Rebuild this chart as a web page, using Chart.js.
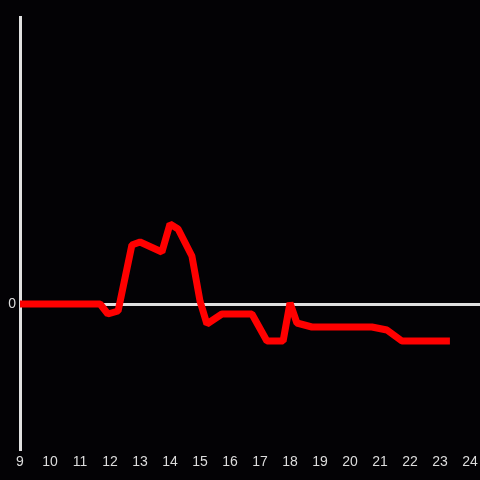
<!DOCTYPE html>
<html>
<head>
<meta charset="utf-8">
<script src="https://cdn.jsdelivr.net/npm/chart.js@4/dist/chart.umd.min.js"></script>
<style>
  html, body { margin: 0; padding: 0; background: #030205; }
  #wrap { width: 480px; height: 480px; }
</style>
</head>
<body>
<div id="wrap"><canvas id="grafico"></canvas></div>
<script>
// horas (eixo x) e valores da serie
var horas = [9, 11.67, 11.93, 12.27, 12.73, 13.0, 13.73, 14.0, 14.27, 14.73, 15.0, 15.23,
    15.73, 16.73, 17.23, 17.77, 18.0, 18.23, 18.73, 20.73, 21.23, 21.73, 23.33];
var valores = [0, 0, -1.0, -0.7, 5.9, 6.2, 5.2, 8.0, 7.5, 4.8, 0.3, -2.0,
    -1.0, -1.0, -3.7, -3.7, 0.1, -1.9, -2.3, -2.3, -2.6, -3.7, -3.7];
var ticksX = [9, 10, 11, 12, 13, 14, 15, 16, 17, 18, 19, 20, 21, 22, 23, 24];
var ticksY = [0];

var pontos = horas.map(function (h, i) { return { x: h, y: valores[i] }; });
var corTexto = "#dcdcdc";

var ctx = document.getElementById('grafico').getContext('2d');
var meuGrafico = new Chart(ctx, {
    type: 'line',
    data: {
        datasets: [{
            data: pontos,
            borderColor: "#ff0000",
            borderWidth: 7,
            pointRadius: 0,
            fill: false,
            tension: 0,
            borderJoinStyle: 'bevel',
            borderCapStyle: 'butt'
        }]
    },
    options: {
        responsive: true,
        maintainAspectRatio: false,
        animation: false,
        layout: { padding: { top: 17, right: 0, left: 0, bottom: 0 } },
        plugins: { legend: { display: false }, tooltip: { enabled: false } },
        scales: {
            x: {
                type: 'linear',
                min: 9,
                max: 24.333,
                afterBuildTicks: function (eixo) {
                    eixo.ticks = ticksX.map(function (v) { return { value: v }; });
                },
                afterFit: function (eixo) {
                    eixo.height = 31;
                    eixo.paddingLeft = 0;
                    eixo.paddingRight = 0;
                },
                grid: { display: false, drawTicks: false },
                border: { display: false },
                ticks: {
                    color: corTexto,
                    font: { family: "'Liberation Sans', Arial, sans-serif", size: 14 },
                    padding: 5,
                    maxRotation: 0,
                    autoSkip: false
                }
            },
            y: {
                min: -14.5,
                max: 28.7,
                afterBuildTicks: function (eixo) {
                    eixo.ticks = ticksY.map(function (v) { return { value: v }; });
                },
                afterFit: function (eixo) {
                    eixo.width = 20;
                    eixo.paddingTop = 0;
                    eixo.paddingBottom = 0;
                },
                grid: {
                    color: "#e0e0e0",
                    lineWidth: 3,
                    drawTicks: false
                },
                border: { display: true, color: "#e0e0e0", width: 3 },
                ticks: {
                    color: corTexto,
                    font: { family: "'Liberation Sans', Arial, sans-serif", size: 14 },
                    padding: 4
                }
            }
        }
    }
});
</script>
</body>
</html>
